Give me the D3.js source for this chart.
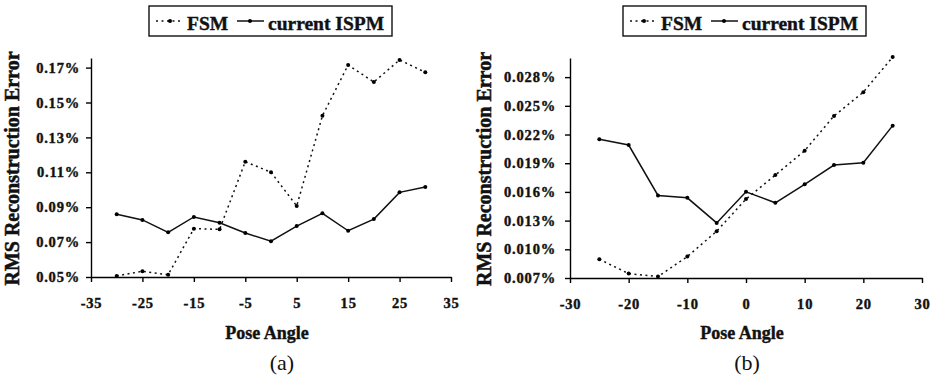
<!DOCTYPE html>
<html>
<head>
<meta charset="utf-8">
<script src="https://cdn.jsdelivr.net/npm/d3@7"></script>
<style>
  body { margin: 0; background: #fff; }
  svg { display: block; }
</style>
</head>
<body>
<div id="chart"></div>
<script>
// data
var anglesA = [-30, -25, -20, -15, -10, -5, 0, 5, 10, 15, 20, 25, 30];
var fsmA = [0.0506, 0.0533, 0.0513, 0.0777, 0.0773, 0.1161, 0.1100, 0.0907, 0.1424, 0.1715, 0.1617, 0.1744, 0.1673];
var ispmA = [0.0859, 0.0827, 0.0756, 0.0844, 0.0811, 0.0752, 0.0705, 0.0792, 0.0865, 0.0765, 0.0832, 0.0985, 0.1016];
var xTicksA = [-35, -25, -15, -5, 5, 15, 25, 35];
var yTicksA = [0.05, 0.07, 0.09, 0.11, 0.13, 0.15, 0.17];

var anglesB = [-25, -20, -15, -10, -5, 0, 5, 10, 15, 20, 25];
var fsmB = [0.00896, 0.00746, 0.00715, 0.00924, 0.01189, 0.01525, 0.01776, 0.02031, 0.02394, 0.02643, 0.0301];
var ispmB = [0.0215, 0.0209, 0.01563, 0.01538, 0.01276, 0.01601, 0.01486, 0.01679, 0.01881, 0.01905, 0.02293];
var xTicksB = [-30, -20, -10, 0, 10, 20, 30];
var yTicksB = [0.007, 0.010, 0.013, 0.016, 0.019, 0.022, 0.025, 0.028];

var seriesNames = ['FSM', 'current ISPM'];
var serif = '"Liberation Serif", "Times New Roman", serif';

var svg = d3.select('#chart').append('svg')
	.attr('width', 936)
	.attr('height', 383);

// heavier look like the scanned figure
function heavy(sel, w) {
	sel.attr('stroke', '#111').attr('stroke-width', w).attr('paint-order', 'stroke');
}

function drawPanel(p) {
	var g = svg.append('g');

	var x = d3.scaleLinear().domain(p.xDomain).range([p.left, p.right]);
	var y = d3.scaleLinear().domain(p.yDomain).range([p.bottom, p.top]);

	// axes
	var xAxis = g.append('g')
		.attr('transform', 'translate(0,' + p.bottom + ')')
		.call(d3.axisBottom(x).tickValues(p.xTicks).tickSize(5).tickSizeOuter(0).tickPadding(16)
			.tickFormat(function(d) { return d; }));
	var yAxis = g.append('g')
		.attr('transform', 'translate(' + p.left + ',0)')
		.call(d3.axisLeft(y).tickValues(p.yTicks).tickSize(5).tickSizeOuter(0).tickPadding(p.yPad)
			.tickFormat(function(d) { return d.toFixed(p.digits) + '%'; }));

	[xAxis, yAxis].forEach(function(a) {
		a.attr('font-family', serif).attr('font-size', null);
		a.selectAll('path, line').attr('stroke', '#000').attr('stroke-width', 1.4);
		a.selectAll('text')
			.attr('font-size', '14.5px')
			.attr('font-weight', 'bold')
			.attr('letter-spacing', '0.8px')
			.attr('fill', '#111')
			.call(heavy, 0.4);
	});

	var line = d3.line()
		.x(function(d) { return x(d[0]); })
		.y(function(d) { return y(d[1]); });

	var fsm = p.angles.map(function(a, i) { return [a, p.fsm[i]]; });
	var ispm = p.angles.map(function(a, i) { return [a, p.ispm[i]]; });

	g.append('path').datum(fsm)
		.attr('d', line)
		.attr('fill', 'none')
		.attr('stroke', '#111')
		.attr('stroke-width', 1.5)
		.attr('stroke-dasharray', '2,3.5');
	g.append('path').datum(ispm)
		.attr('d', line)
		.attr('fill', 'none')
		.attr('stroke', '#111')
		.attr('stroke-width', 1.5);

	[fsm, ispm].forEach(function(s) {
		g.selectAll(null).data(s).enter().append('circle')
			.attr('cx', function(d) { return x(d[0]); })
			.attr('cy', function(d) { return y(d[1]); })
			.attr('r', 2)
			.attr('fill', '#000');
	});

	// axis titles
	g.append('text')
		.attr('transform', 'translate(' + p.yTitleX + ',' + ((p.top + p.bottom) / 2 + 1) + ') rotate(-90)')
		.attr('text-anchor', 'middle')
		.attr('font-family', serif)
		.attr('font-weight', 'bold')
		.attr('font-size', '20px')
		.attr('fill', '#111')
		.call(heavy, 0.5)
		.text('RMS Reconstruction Error');
	g.append('text')
		.attr('x', (p.left + p.right) / 2 - 4)
		.attr('y', 339)
		.attr('text-anchor', 'middle')
		.attr('font-family', serif)
		.attr('font-weight', 'bold')
		.attr('font-size', '18px')
		.attr('fill', '#111')
		.call(heavy, 0.4)
		.text('Pose Angle');
	g.append('text')
		.attr('x', p.captionX)
		.attr('y', 370)
		.attr('text-anchor', 'middle')
		.attr('font-family', serif)
		.attr('font-size', '22px')
		.attr('fill', '#111')
		.text(p.caption);

	// legend
	var lg = g.append('g').attr('transform', 'translate(' + p.legX + ',6)');
	lg.append('rect')
		.attr('x', 0).attr('y', 0)
		.attr('width', 243).attr('height', 30)
		.attr('fill', '#fff')
		.attr('stroke', '#111')
		.attr('stroke-width', 1.4);
	lg.append('line')
		.attr('x1', 7).attr('x2', 34).attr('y1', 15).attr('y2', 15)
		.attr('stroke', '#111').attr('stroke-width', 1.5).attr('stroke-dasharray', '2,3.5');
	lg.append('circle').attr('cx', 21).attr('cy', 15).attr('r', 2).attr('fill', '#000');
	lg.append('line')
		.attr('x1', 88).attr('x2', 115).attr('y1', 15).attr('y2', 15)
		.attr('stroke', '#111').attr('stroke-width', 1.5);
	lg.append('circle').attr('cx', 101).attr('cy', 15).attr('r', 2).attr('fill', '#000');
	lg.selectAll('text.leg').data(seriesNames).enter().append('text')
		.attr('class', 'leg')
		.attr('x', function(d, i) { return i === 0 ? 38 : 119; })
		.attr('y', 23.5)
		.attr('font-family', serif)
		.attr('font-weight', 'bold')
		.attr('font-size', '19.5px')
		.attr('fill', '#111')
		.call(heavy, 0.4)
		.text(function(d) { return d; });
}

drawPanel({
	angles: anglesA, fsm: fsmA, ispm: ispmA,
	xTicks: xTicksA, yTicks: yTicksA,
	xDomain: [-35, 35], yDomain: [0.05, 0.1755],
	left: 91, right: 451, top: 58, bottom: 277,
	digits: 2, yPad: 6, yTitleX: 19,
	captionX: 282, caption: '(a)', legX: 149
});

drawPanel({
	angles: anglesB, fsm: fsmB, ispm: ispmB,
	xTicks: xTicksB, yTicks: yTicksB,
	xDomain: [-30, 30], yDomain: [0.007, 0.030],
	left: 570, right: 922, top: 58, bottom: 278,
	digits: 3, yPad: 9, yTitleX: 491,
	captionX: 747, caption: '(b)', legX: 623
});
</script>
</body>
</html>
